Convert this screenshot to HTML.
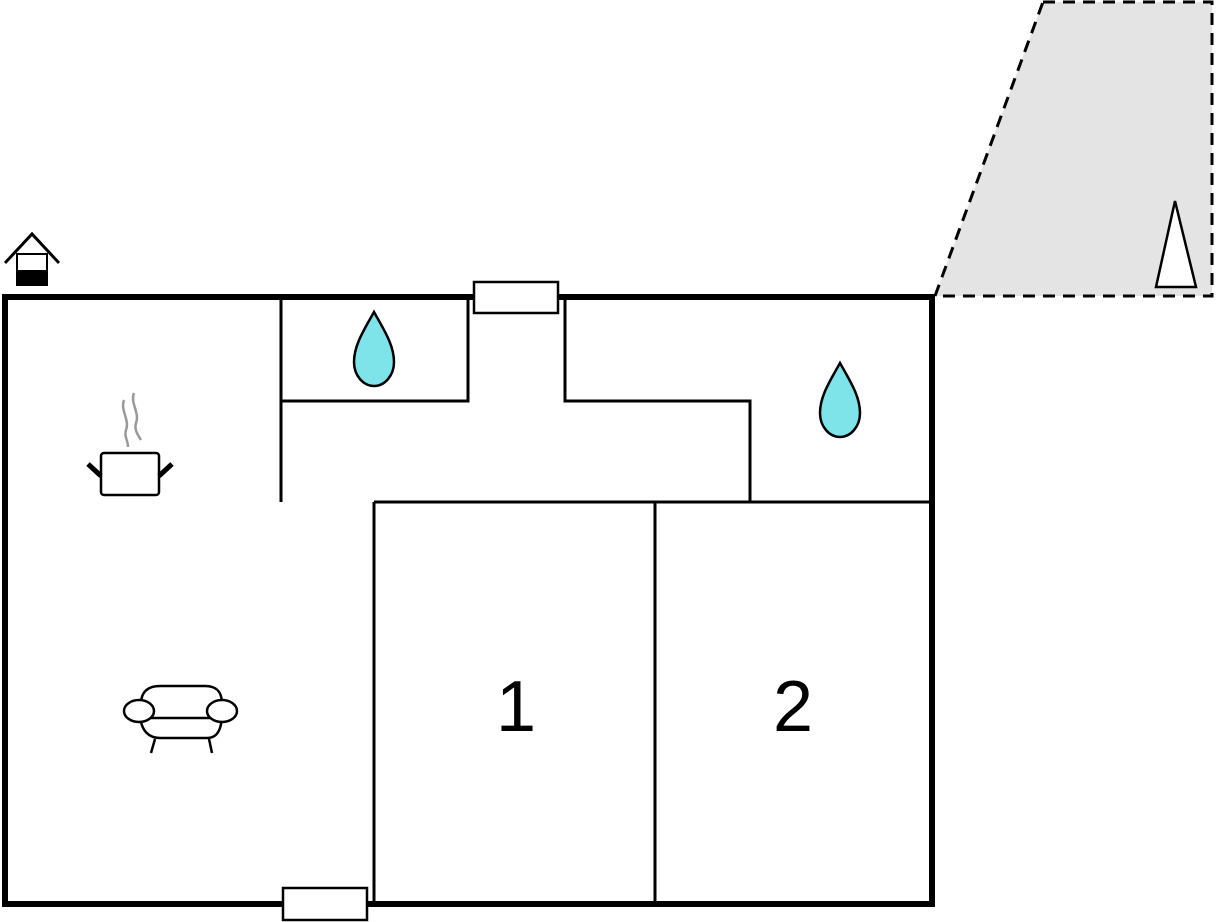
<!DOCTYPE html>
<html><head><style>html,body{margin:0;padding:0;background:#fff}svg{display:block}</style></head>
<body>
<svg width="1216" height="922" viewBox="0 0 1216 922" xmlns="http://www.w3.org/2000/svg">
<rect width="1216" height="922" fill="#fff"/>
<!-- terrace -->
<polygon points="1043,2 1212,2 1212,296 935,296" fill="#e4e4e4" stroke="#000" stroke-width="3" stroke-dasharray="12,8"/>
<polygon points="1175,201 1196,287 1156,287" fill="#fff" stroke="#000" stroke-width="2.5"/>
<!-- outer walls -->
<rect x="5" y="297" width="927" height="607" fill="none" stroke="#000" stroke-width="6"/>
<!-- interior walls -->
<g stroke="#000" stroke-width="3" fill="none">
<line x1="281" y1="297" x2="281" y2="502"/>
<polyline points="281,401 468,401 468,297"/>
<polyline points="565,297 565,401 750,401 750,502"/>
<line x1="374" y1="502" x2="932" y2="502"/>
<line x1="374" y1="502" x2="374" y2="904"/>
<line x1="655" y1="502" x2="655" y2="904"/>
</g>
<!-- doors -->
<rect x="474" y="282" width="84" height="31" fill="#fff" stroke="#000" stroke-width="2.5"/>
<rect x="283" y="888" width="84" height="32" fill="#fff" stroke="#000" stroke-width="2.5"/>
<!-- drops -->
<path d="M374,312 C364,330 354,345 354,362 A20,24 0 0 0 394,362 C394,345 384,330 374,312 Z" fill="#7fe3ea" stroke="#000" stroke-width="2.5"/>
<path d="M840,363 C830,381 820,396 820,413 A20,24 0 0 0 860,413 C860,396 850,381 840,363 Z" fill="#7fe3ea" stroke="#000" stroke-width="2.5"/>
<!-- house icon -->
<polyline points="5,263 32,234 59,263" fill="none" stroke="#000" stroke-width="3"/>
<rect x="17" y="254" width="30" height="31" fill="#fff" stroke="#000" stroke-width="2"/>
<rect x="16" y="270" width="32" height="16" fill="#000"/>
<!-- pot -->
<g stroke="#999" stroke-width="2.5" fill="none">
<path d="M124,400 C120,410 130,420 126,430 C124,437 128,440 128,447"/>
<path d="M134,393 C130,403 140,413 136,423 C134,430 138,435 141,440"/>
</g>
<rect x="101" y="453" width="58" height="42" rx="3" fill="#fff" stroke="#000" stroke-width="2.5"/>
<line x1="88" y1="464" x2="101" y2="476" stroke="#000" stroke-width="5"/>
<line x1="172" y1="464" x2="159" y2="476" stroke="#000" stroke-width="5"/>
<!-- sofa -->
<g stroke="#000" stroke-width="2.5" fill="#fff">
<path d="M141,704 C141,690 150,686 160,686 L205,686 C215,686 222,690 222,704"/>
<path d="M140,712 C140,732 150,738 160,738 L207,738 C216,738 222,732 222,712"/>
<line x1="150" y1="718" x2="212" y2="718"/>
<ellipse cx="139" cy="711" rx="15" ry="11"/>
<ellipse cx="222" cy="711" rx="15" ry="11"/>
<line x1="155" y1="739" x2="151" y2="753"/>
<line x1="209" y1="739" x2="212" y2="753"/>
</g>
<!-- labels -->
<text x="516" y="731" font-family="Liberation Sans, sans-serif" font-size="72" text-anchor="middle" fill="#000">1</text>
<text x="793" y="731" font-family="Liberation Sans, sans-serif" font-size="72" text-anchor="middle" fill="#000">2</text>
</svg>
</body></html>
